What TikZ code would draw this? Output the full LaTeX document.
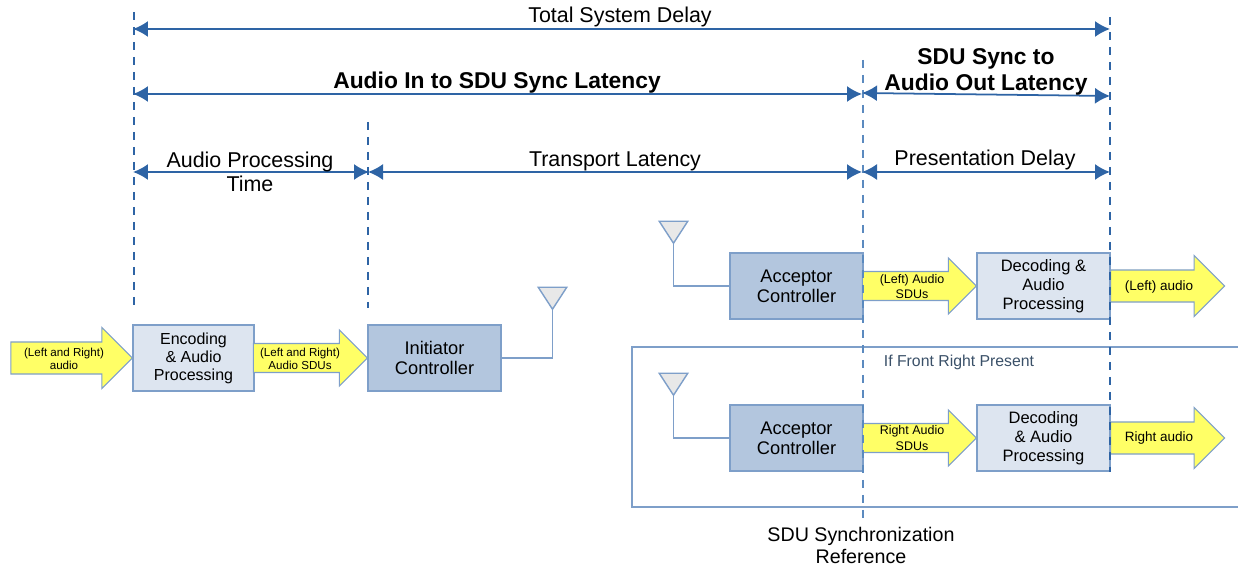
\documentclass[tikz,border=0pt]{standalone}
\usepackage{fontspec}
\setmainfont{Liberation Sans}
\usetikzlibrary{arrows.meta,shapes.arrows,shapes.geometric}
\definecolor{spanblue}{HTML}{2E64A5}
\definecolor{markblue}{HTML}{5B8ABF}
\definecolor{edgeblue}{HTML}{7E9FC9}
\definecolor{palefill}{HTML}{DDE5F0}
\definecolor{darkfill}{HTML}{B3C6DE}
\definecolor{flowyellow}{HTML}{FFFF66}
\definecolor{notegray}{HTML}{3A5068}
\begin{document}
\begin{tikzpicture}[
		x=0.02cm, y=-0.02cm,
		stage/.style={rectangle, draw=edgeblue, line width=0.8pt, fill=palefill, minimum width=2.66cm, minimum height=1.32cm, inner sep=0pt, align=center, font=\fontsize{9.4}{10.7}\selectfont, execute at begin node=\rule{0pt}{10.5pt}},
		radio/.style={stage, fill=darkfill, font=\fontsize{10.4}{11.6}\selectfont},
		audioflow/.style={single arrow, draw=edgeblue, line width=0.6pt, fill=flowyellow, inner xsep=0pt, inner ysep=0.31cm, outer sep=0pt, single arrow head extend=0.29cm, single arrow head indent=0pt, single arrow tip angle=90, minimum height=2.28cm},
		sduflow/.style={audioflow, inner ysep=0.28cm, single arrow head extend=0.27cm},
		flowtext/.style={align=center, inner sep=0pt, font=\fontsize{6.6}{7.6}\selectfont},
		sdutext/.style={flowtext, font=\fontsize{7.1}{8.6}\selectfont},
		outtext/.style={flowtext, font=\fontsize{7.7}{9}\selectfont},
		span/.style={{Latex[length=0.3cm,width=0.32cm]}-{Latex[length=0.3cm,width=0.32cm]}, line width=1pt, spanblue},
		timemark/.style={dash pattern=on 0.16cm off 0.14cm, line width=0.9pt, spanblue},
		softmark/.style={timemark, markblue},
		spantext/.style={align=center, inner sep=0pt, font=\fontsize{12.2}{13.6}\selectfont},
		boldtext/.style={spantext, font=\fontsize{13}{14.6}\selectfont\bfseries},
		antenna/.style={isosceles triangle, isosceles triangle apex angle=66, shape border rotate=-90, draw=edgeblue, line width=0.8pt, fill=black!9, minimum height=0.44cm, inner sep=0pt, outer sep=0pt},
		link/.style={draw=edgeblue, line width=0.8pt},
		frameline/.style={draw=edgeblue, line width=0.6pt}
		]
		\useasboundingbox (0,0) rectangle (1238,567);
		
		% optional branch frame
		\coordinate (frameTR) at (1238,347);
		\coordinate (frameBR) at (1238,507);
		\draw[frameline] (frameTR) -| (632,507) -- (frameBR);
		\node[inner sep=0pt, text=notegray, font=\fontsize{9}{10}\selectfont] (front) at (959,362.5) {If Front Right Present};
		
		\node[stage, minimum width=2.42cm, font=\fontsize{9.1}{10.3}\selectfont] (enc) at (193.5,358) {Encoding\\\& Audio\\Processing};
		\node[radio] (init) at (434.5,358) {Initiator\\Controller};
		\node[radio] (accL) at (796.5,286) {Acceptor\\Controller};
		\node[stage] (decL) at (1043.5,286) {Decoding \&\\Audio\\Processing};
		\node[radio] (accR) at (796.5,438) {Acceptor\\Controller};
		\node[stage] (decR) at (1043.5,438) {Decoding\\\& Audio\\Processing};
		
		\node[antenna] (antI) at (552.5,295) {};
		\node[antenna] (antL) at (673.5,229) {};
		\node[antenna] (antR) at (673.5,381) {};
		\draw[link] (antI.apex) |- (init.east);
		\draw[link] (antL.apex) |- (accL.west);
		\draw[link] (antR.apex) |- (accR.west);
		
		% yellow flows
		\node[audioflow, anchor=tip, minimum height=2.43cm] (inflow) at (enc.west) {};
		\node[sduflow, anchor=tip] (encflow) at (init.west) {};
		\node[sduflow, anchor=tip] (sduL) at (decL.west) {};
		\node[audioflow, anchor=tail] (outL) at (decL.east) {};
		\node[sduflow, anchor=tip] (sduR) at (decR.west) {};
		\node[audioflow, anchor=tail] (outR) at (decR.east) {};
		\node[flowtext] (inflowtext) at (64,359) {(Left and Right)\\audio};
		\node[flowtext] (encflowtext) at (300,359) {(Left and Right)\\Audio SDUs};
		\node[sdutext] (sduLtext) at (912,286.5) {(Left) Audio\\SDUs};
		\node[outtext] (outLtext) at (1159,287) {(Left) audio};
		\node[sdutext] (sduRtext) at (912,438) {Right Audio\\SDUs};
		\node[outtext] (outRtext) at (1159,438) {Right audio};
		
		% time marks
		\coordinate (markA) at (134,12);
		\coordinate (markAend) at (134,308);
		\coordinate (markB) at (368,122);
		\coordinate (markBend) at (368,308);
		\coordinate (markC) at (863,60);
		\coordinate (markCend) at (863,518);
		\coordinate (markD) at (1110,17);
		\coordinate (markDend) at (1110,472);
		\draw[timemark] (markA) -- (markAend);
		\draw[timemark] (markB) -- (markBend);
		\draw[softmark] (markC) -- (markCend);
		\draw[timemark] (markD) -- (markDend);
		
		\coordinate (totalA) at (133,29);
		\coordinate (totalD) at (1110,29);
		\coordinate (syncA) at (133,94);
		\coordinate (syncC) at (862,94);
		\coordinate (outC) at (862,93);
		\coordinate (outD) at (1110,96);
		\coordinate (procA) at (133,172);
		\coordinate (procB) at (369,172);
		\coordinate (transB) at (368,172);
		\coordinate (transC) at (862,172);
		\coordinate (presC) at (862,172);
		\coordinate (presD) at (1110,172);
		\draw[span] (totalA) -- (totalD);
		\draw[span] (syncA) -- (syncC);
		\draw[span] (outC) -- (outD);
		\draw[span] (procA) -- (procB);
		\draw[span] (transB) -- (transC);
		\draw[span] (presC) -- (presD);
		
		\node[spantext] (total) at (620,17) {Total System Delay};
		\node[boldtext] (insync) at (497,83) {Audio In to SDU Sync Latency};
		\node[boldtext] (syncout) at (986,72) {SDU Sync to\\Audio Out Latency};
		\node[spantext] (proc) at (250,172) {Audio Processing\\Time};
		\node[spantext] (trans) at (615,161) {Transport Latency};
		\node[spantext] (pres) at (985,160) {Presentation Delay};
		\node[spantext, font=\fontsize{11.2}{12.5}\selectfont] (ref) at (861,545.5) {SDU Synchronization\\Reference};
		
	\end{tikzpicture}
\end{document}
